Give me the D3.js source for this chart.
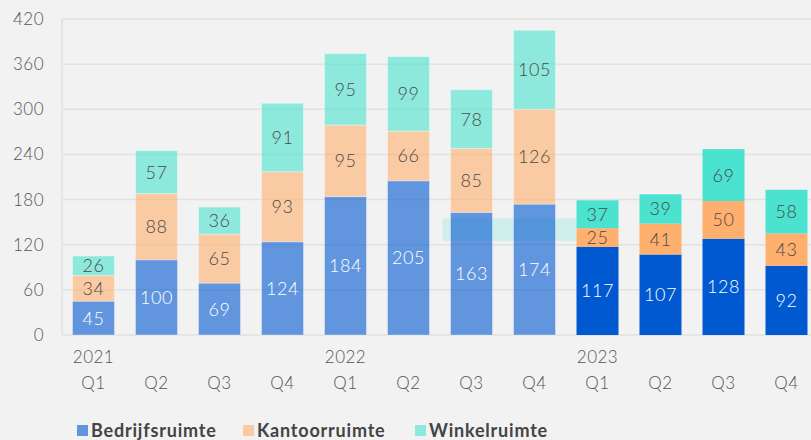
<!DOCTYPE html>
<html>
<head>
<meta charset="utf-8">
<script src="https://cdn.jsdelivr.net/npm/d3@7"></script>
<style>
  body { margin: 0; background: #f2f2f2; }
  svg { display: block; font-family: Lato, "Open Sans", sans-serif; }
</style>
</head>
<body>
<div id="chart"></div>
<script>
// Data
const quarters = ['Q1', 'Q2', 'Q3', 'Q4', 'Q1', 'Q2', 'Q3', 'Q4', 'Q1', 'Q2', 'Q3', 'Q4'];
const years = ['2021', '', '', '', '2022', '', '', '', '2023', '', '', ''];
const bedrijfsruimte = [45, 100, 69, 124, 184, 205, 163, 174, 117, 107, 128, 92];
const kantoorruimte = [34, 88, 65, 93, 95, 66, 85, 126, 25, 41, 50, 43];
const winkelruimte = [26, 57, 36, 91, 95, 99, 78, 105, 37, 39, 69, 58];
const yTicks = [0, 60, 120, 180, 240, 300, 360, 420];
const seriesNames = ['Bedrijfsruimte', 'Kantoorruimte', 'Winkelruimte'];
const colors = ['#0059d1', '#ffaf6e', '#4be3cf'];
const labelColors = ['#ffffff', '#4a4a4a', '#4a4a4a'];

const W = 811, H = 440;
const margin = { top: 19, left: 62, bottom: 105 };
const plotRight = 818;

const svg = d3.select('#chart').append('svg')
  .attr('width', W).attr('height', H);

const ids = quarters.map((q, i) => i);
const x = d3.scaleBand().domain(ids).range([margin.left, plotRight])
  .paddingInner(1 / 3).paddingOuter(1 / 6);
const y = d3.scaleLinear().domain([0, 420]).range([H - margin.bottom, margin.top]);

// grid
svg.append('g').selectAll('line').data(yTicks).enter().append('line')
  .attr('x1', margin.left).attr('x2', plotRight)
  .attr('y1', d => y(d)).attr('y2', d => y(d))
  .attr('stroke', '#e1e1e1').attr('stroke-width', 1.5);
svg.append('line')
  .attr('x1', margin.left).attr('x2', margin.left)
  .attr('y1', y(0)).attr('y2', y(420))
  .attr('stroke', '#e1e1e1').attr('stroke-width', 1.5);

// y labels
svg.append('g').selectAll('text').data(yTicks).enter().append('text')
  .attr('x', 44).attr('y', d => y(d)).attr('dy', '0.35em')
  .attr('text-anchor', 'end').attr('font-size', 17).attr('font-weight', 300)
  .attr('letter-spacing', 0.5)
  .attr('fill', '#555').text(d => d);

// stray translucent box
svg.append('rect')
  .attr('x', x(6) - 8).attr('width', x(8) - x(6) + 8)
  .attr('y', y(155)).attr('height', y(125) - y(155))
  .attr('fill', '#4be3cf').attr('opacity', 0.2);

// stacked bars
const rows = ids.map(i => ({ i, v: [bedrijfsruimte[i], kantoorruimte[i], winkelruimte[i]] }));
const stack = d3.stack().keys([0, 1, 2]).value((d, k) => d.v[k]);
const layers = stack(rows);

layers.forEach((layer, k) => {
  const g = svg.append('g');
  g.selectAll('rect').data(layer).enter().append('rect')
    .attr('x', d => x(d.data.i))
    .attr('width', x.bandwidth())
    .attr('y', d => y(d[1]))
    .attr('height', d => y(d[0]) - y(d[1]))
    .attr('fill', colors[k])
    .attr('fill-opacity', d => d.data.i < 8 ? 0.6 : 1)
    .attr('stroke', d => d.data.i < 8 ? 'rgba(255,255,255,0.35)' : 'none')
    .attr('stroke-width', 1);
  g.selectAll('text').data(layer).enter().append('text')
    .attr('x', d => x(d.data.i) + x.bandwidth() / 2)
    .attr('y', d => (y(d[0]) + y(d[1])) / 2)
    .attr('dy', '0.36em')
    .attr('text-anchor', 'middle').attr('font-size', 18).attr('font-weight', 300)
    .attr('letter-spacing', 0.5)
    .attr('fill', labelColors[k])
    .text(d => d.data.v[k]);
});

// x labels
const xl = svg.append('g');
xl.selectAll('.yr').data(ids).enter().append('text')
  .attr('x', i => x(i) + x.bandwidth() / 2).attr('y', 363)
  .attr('text-anchor', 'middle').attr('font-size', 17).attr('font-weight', 300)
  .attr('letter-spacing', 0.5)
  .attr('fill', '#555').text(i => years[i]);
xl.selectAll('.q').data(ids).enter().append('text')
  .attr('x', i => x(i) + x.bandwidth() / 2).attr('y', 389)
  .attr('text-anchor', 'middle').attr('font-size', 17).attr('font-weight', 300)
  .attr('letter-spacing', 0.5)
  .attr('fill', '#555').text(i => quarters[i]);

// legend
const legendX = [77, 243, 415];
const lg = svg.append('g');
seriesNames.forEach((name, k) => {
  lg.append('rect').attr('x', legendX[k]).attr('y', 425)
    .attr('width', 11).attr('height', 11)
    .attr('fill', colors[k]).attr('fill-opacity', 0.6);
  lg.append('text').attr('x', legendX[k] + 14).attr('y', 437)
    .attr('font-size', 18).attr('font-weight', 700).attr('fill', '#444')
    .attr('letter-spacing', 0.8)
    .text(name);
});
</script>
</body>
</html>
